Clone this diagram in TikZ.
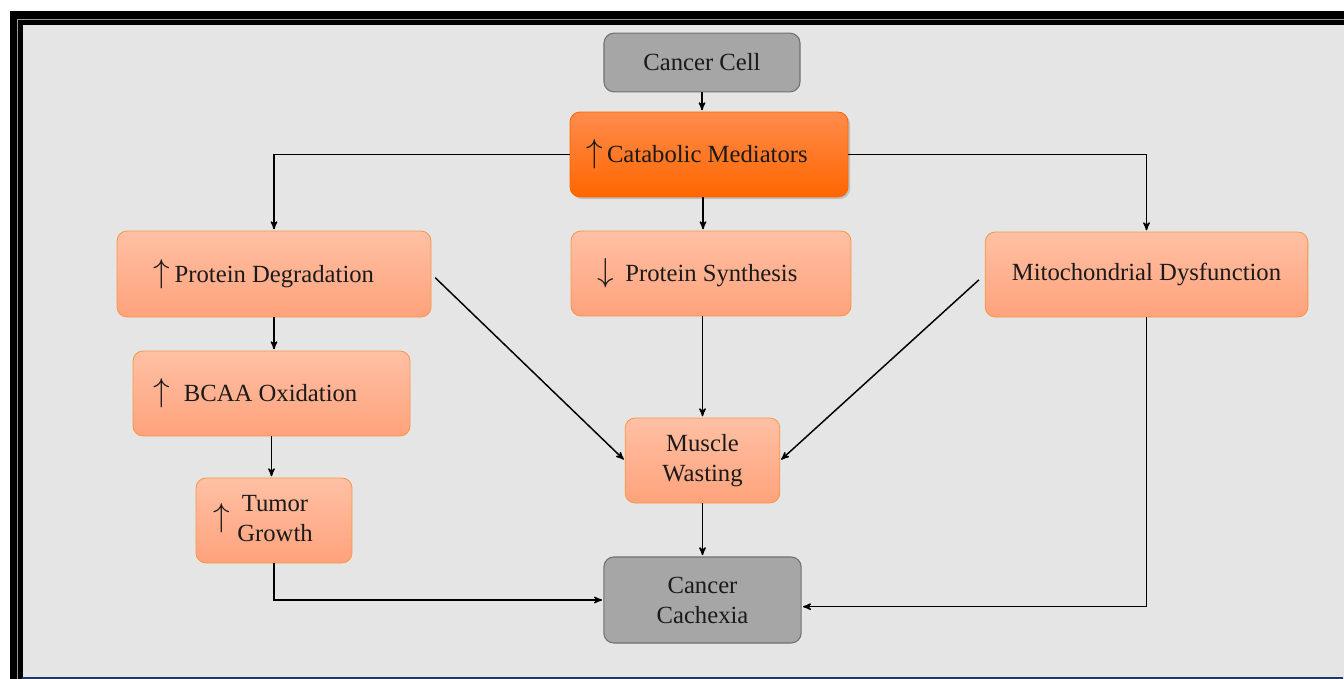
\documentclass[tikz,border=0pt]{standalone}
\usepackage{fontspec}
\setmainfont{Liberation Serif}
\usepackage{tikz}
\usetikzlibrary{arrows, shadows}

\definecolor{panel}{HTML}{E5E5E5}
\definecolor{framegray}{HTML}{9A9A9A}
\definecolor{greyfill}{HTML}{A6A6A6}
\definecolor{greyline}{HTML}{707070}
\definecolor{salmontop}{HTML}{FFC0A4}
\definecolor{salmonbot}{HTML}{FFA27C}
\definecolor{salmonline}{HTML}{F79646}
\definecolor{hottop}{HTML}{FF8C4C}
\definecolor{hotbot}{HTML}{FF6600}
\definecolor{inktext}{HTML}{1A1A1A}
\definecolor{navyline}{HTML}{1F3A5F}

\newcommand{\upmark}{{\fontsize{28}{28}\selectfont$\uparrow$}}
\newcommand{\downmark}{{\fontsize{28}{28}\selectfont$\downarrow$}}
\newcommand{\padr}[1]{\rule{#1}{0pt}}

\begin{document}
\begin{tikzpicture}[x=0.75pt,y=-0.75pt,>=stealth',shorten >=1pt,auto,
  link/.style={->,line width=1.1pt},
  base node/.style={rectangle,rounded corners=7.5pt,align=center,text=inktext,
    font=\fontsize{18.5}{22.5}\selectfont,inner sep=2pt},
  grey node/.style={base node,draw=greyline,line width=0.8pt,fill=greyfill},
  main node/.style={base node,draw=salmonline,line width=0.6pt,
    top color=salmontop,bottom color=salmonbot},
  hot node/.style={base node,draw=hotbot,line width=0.6pt,
    top color=hottop,bottom color=hotbot,
    drop shadow={opacity=0.35,shadow xshift=1.5pt,shadow yshift=-1.5pt}}]

  \useasboundingbox (0,0) rectangle (1344,678);

  % frame and panel
  \fill[white] (0,0) rectangle (1344,678);
  \fill[black] (10,11) rectangle (1370,700);
  \draw[framegray,line width=0.8pt] (17.5,19.3) rectangle (1370,700);
  \fill[panel] (23,25) rectangle (1370,700);
  \draw[navyline,line width=1.5pt] (22,677.5) -- (1344,677.5);

  \node[grey node,minimum width=147pt,minimum height=44pt] (1) at (702,62.5) {Cancer Cell};
  \node[hot node,minimum width=208.5pt,minimum height=63.75pt] (2) at (709,154.5) {\upmark\,Catabolic Mediators\padr{18pt}};
  \node[main node,minimum width=235.5pt,minimum height=64.5pt] (3) at (274,274) {\upmark\,Protein Degradation\padr{15pt}};
  \node[main node,minimum width=210pt,minimum height=63.75pt] (4) at (711,273.5) {\downmark\,\;Protein Synthesis\padr{20pt}};
  \node[main node,minimum width=242pt,minimum height=63.75pt] (5) at (1146.5,274.5) {Mitochondrial Dysfunction};
  \node[main node,minimum width=207.75pt,minimum height=63.75pt] (6) at (271.5,393.5) {\upmark\;\;BCAA Oxidation\padr{24pt}};
  \node[main node,minimum width=117pt,minimum height=63.75pt] (7) at (274,520.5)
    {\upmark\;\begin{tabular}{@{}c@{}}Tumor\\Growth\end{tabular}\padr{16pt}};
  \node[main node,minimum width=116pt,minimum height=63.75pt] (8) at (702.5,460.5) {Muscle\\Wasting};
  \node[grey node,minimum width=148pt,minimum height=64.5pt] (9) at (702.5,600) {Cancer\\Cachexia};

  \draw[link] (1) -- (1 |- 2.north);
  \draw[link] (2.west) -| (3.north);
  \draw[link] (2.east) -| (5.north);
  \draw[link] ([xshift=-4.5pt]2.south) -- ([xshift=-4.5pt]2.south |- 4.north);
  \draw[link] (3) -- (3 |- 6.north);
  \draw[link] (6.south) -- (6.south |- 7.north);
  \draw[link] (7.south) |- (9.west);
  \draw[link,shorten <=4pt] (3.east) -- (8.west);
  \draw[link] (8 |- 4.south) -- (8.north);
  \draw[link,shorten <=6pt] (5.west) -- (8.east);
  \draw[link] (8.south) -- (9.north);
  \draw[link] (5.south) |- ([yshift=-5pt]9.east);
\end{tikzpicture}
\end{document}
